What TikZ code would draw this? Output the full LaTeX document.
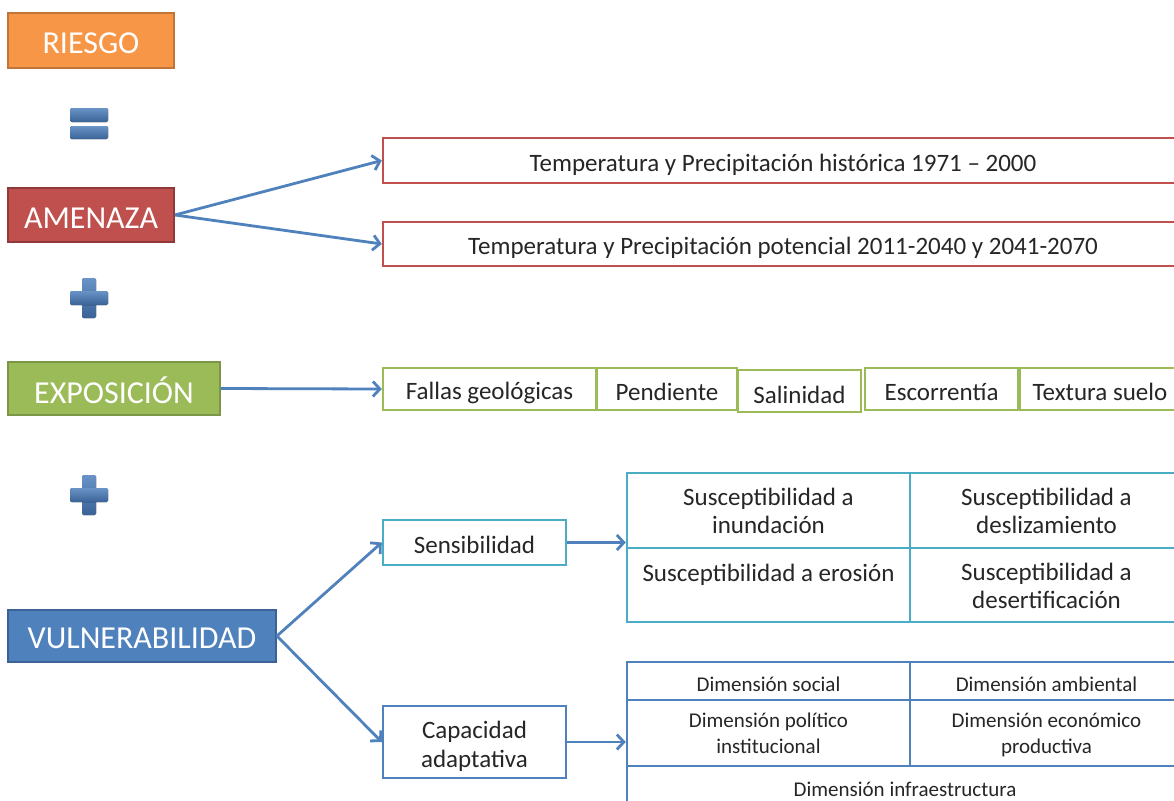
\documentclass[tikz,border=0pt]{standalone}
\usepackage{fontspec}
\setmainfont{Carlito}
\usetikzlibrary{arrows.meta}
\definecolor{orng}{HTML}{F79646}
\definecolor{orngd}{HTML}{C0753A}
\definecolor{redf}{HTML}{C0504D}
\definecolor{redd}{HTML}{8F3A38}
\definecolor{grnf}{HTML}{9BBB59}
\definecolor{grnd}{HTML}{7A9646}
\definecolor{bluf}{HTML}{4F81BD}
\definecolor{blud}{HTML}{3A6296}
\definecolor{cyn}{HTML}{4BACC6}
\definecolor{txt}{HTML}{262626}
\newcommand{\lowr}[2]{\raisebox{-#1}[\height][\depth]{#2}}
\newcommand{\twol}[2]{\begin{tabular}{@{}c@{}}#1\\#2\end{tabular}}
\begin{document}
\begin{tikzpicture}[x=1pt,y=-1pt,
  bigbox/.style={draw, line width=1.8pt, inner sep=0pt, text=white, font=\fontsize{32}{34}\selectfont},
  outbox/.style={draw, line width=2.4pt, fill=white, inner sep=0pt, text=txt, font=\fontsize{25}{29}\selectfont, align=center},
  cell/.style={draw, line width=2.5pt, fill=white, inner sep=0pt, text=txt, align=center},
  conn/.style={draw=bluf, line width=2.8pt, -{Straight Barb[length=7pt,width=15pt,line width=2.8pt]}},
  sign/.style={rounded corners=1.5pt, top color=bluf!85!white, bottom color=blud}
]
\clip (0,0) rectangle (1174,800);
\fill[white] (0,0) rectangle (1174,800);

% left column
\node[bigbox, fill=orng, draw=orngd, minimum width=166pt, minimum height=55pt] (riesgo) at (91,40.5) {\lowr{3pt}{RIESGO}};
\node[bigbox, fill=redf, draw=redd, minimum width=166pt, minimum height=54pt] (amenaza) at (91,215) {\lowr{3pt}{AMENAZA}};
\node[bigbox, fill=grnf, draw=grnd, minimum width=212pt, minimum height=53pt] (expo) at (114,388.5) {\lowr{2pt}{EXPOSICIÓN}};
\node[bigbox, fill=bluf, draw=blud, minimum width=268pt, minimum height=52pt] (vuln) at (142,636) {\lowr{2pt}{VULNERABILIDAD}};

% equals sign
\fill[sign] (70,108) rectangle (108,122);
\fill[sign] (70,126) rectangle (108,139);
% plus signs
\fill[sign] (82,278) rectangle (96,318);
\fill[sign] (70,291) rectangle (108,305);
\fill[sign] (82,475) rectangle (96,515);
\fill[sign] (70,488) rectangle (108,502);

% amenaza boxes
\node[outbox, draw=redf, minimum width=800pt, minimum height=45pt] (t1) at (783,160.5) {\lowr{4pt}{Temperatura y Precipitación histórica 1971 – 2000}};
\node[outbox, draw=redf, minimum width=800pt, minimum height=44pt] (t2) at (783,244) {\lowr{4pt}{Temperatura y Precipitación potencial 2011-2040 y 2041-2070}};

% exposicion boxes
\node[outbox, draw=grnf, minimum width=213pt, minimum height=42pt] (fl) at (489.5,389) {\lowr{4pt}{Fallas geológicas}};
\node[outbox, draw=grnf, minimum width=140pt, minimum height=42pt] (pe) at (667,389) {\lowr{3pt}{Pendiente}};
\node[outbox, draw=grnf, minimum width=123pt, minimum height=42pt] (sa) at (799.5,391) {\lowr{4pt}{Salinidad}};
\node[outbox, draw=grnf, minimum width=153pt, minimum height=42pt] (es) at (941.5,389) {\lowr{3pt}{Escorrentía}};
\node[outbox, draw=grnf, minimum width=160pt, minimum height=42pt] (te) at (1100,389) {\lowr{3pt}{Textura suelo}};

% sensibilidad / capacidad
\node[outbox, draw=cyn, minimum width=183pt, minimum height=45pt] (sens) at (474.5,542.5) {\lowr{2pt}{Sensibilidad}};
\node[outbox, draw=bluf, minimum width=183pt, minimum height=72pt] (cap) at (474.5,742) {\lowr{5pt}{\twol{Capacidad}{adaptativa}}};

% susceptibility grid
\begin{scope}[every node/.style={cell, draw=cyn, font=\fontsize{25}{28}\selectfont}]
\node[minimum width=283pt, minimum height=75pt] (sA) at (768.5,510.5) {\lowr{3pt}{\twol{Susceptibilidad a}{inundación}}};
\node[minimum width=273pt, minimum height=75pt] (sB) at (1046.5,510.5) {\lowr{3pt}{\twol{Susceptibilidad a}{deslizamiento}}};
\node[minimum width=283pt, minimum height=74pt] (sC) at (768.5,585) {};
\node[minimum width=273pt, minimum height=74pt] (sD) at (1046.5,585) {\lowr{4pt}{\twol{Susceptibilidad a}{desertificación}}};
\end{scope}
\node[text=txt, font=\fontsize{25}{28}\selectfont, anchor=base, inner sep=0pt] (sCt) at (768.5,581) {Susceptibilidad a erosión};

% dimension grid
\begin{scope}[every node/.style={cell, draw=bluf, font=\fontsize{21}{26}\selectfont}]
\node[minimum width=283pt, minimum height=38pt] (dS) at (768.5,681) {\lowr{3pt}{Dimensión social}};
\node[minimum width=273pt, minimum height=38pt] (dA) at (1046.5,681) {\lowr{3pt}{Dimensión ambiental}};
\node[minimum width=283pt, minimum height=66pt] (dP) at (768.5,733) {\lowr{2pt}{\twol{Dimensión político}{institucional}}};
\node[minimum width=273pt, minimum height=66pt] (dE) at (1046.5,733) {\lowr{2pt}{\twol{Dimensión económico}{productiva}}};
\node[minimum width=556pt, minimum height=46pt] (dI) at (905,789) {\lowr{0pt}{Dimensión infraestructura}};
\end{scope}

% connectors
\draw[conn] (amenaza.east) -- (t1.west);
\draw[conn] (amenaza.east) -- (t2.west);
\draw[conn] (expo.east) -- (fl.west);
\draw[conn] (vuln.east) -- (sens.west);
\draw[conn] (vuln.east) -- (cap.west);
\draw[conn] (sens.east) -- (sens.east -| sA.west);
\draw[conn] (cap.east) -- (cap.east -| dP.west);
\end{tikzpicture}
\end{document}
